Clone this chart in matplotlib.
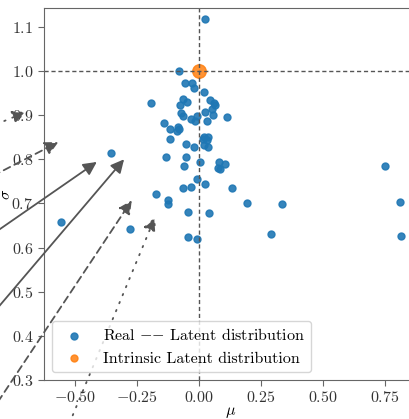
import numpy as np
import matplotlib
matplotlib.use("Agg")
import matplotlib.pyplot as plt

plt.rcParams['font.family'] = 'serif'
plt.rcParams['font.serif'] = ['cmr10']
plt.rcParams['mathtext.fontset'] = 'cm'
plt.rcParams['axes.formatter.use_mathtext'] = True
plt.rcParams['font.size'] = 11.5

# latent means / std devs of the real samples
mu = [0.024, -0.081, -0.056, -0.029, -0.020, 0.021, -0.195, -0.066, -0.050, 0.043,
      0.060, 0.065, -0.077, 0.054, 0.024, -0.072, -0.063, 0.058, 0.112, -0.033,
      -0.009, -0.016, 0.031, -0.140, -0.117, -0.086, -0.081, -0.090, -0.116, 0.021,
      0.038, 0.031, 0.017, -0.054, -0.019, 0.019, 0.035, -0.132, -0.054, 0.004,
      -0.062, 0.082, 0.104, 0.075, 0.086, -0.006, 0.024, -0.065, -0.033, 0.133,
      -0.172, -0.123, -0.125, 0.192, -0.044, 0.040, -0.043, -0.008, 0.292, 0.335,
      0.751, 0.810, 0.817, -0.356, -0.558, -0.278]
sigma = [1.118, 0.999, 0.974, 0.973, 0.962, 0.952, 0.927, 0.936, 0.930, 0.934,
         0.928, 0.923, 0.922, 0.913, 0.907, 0.905, 0.899, 0.900, 0.895, 0.892,
         0.897, 0.886, 0.886, 0.882, 0.869, 0.873, 0.868, 0.864, 0.847, 0.850,
         0.851, 0.843, 0.845, 0.834, 0.829, 0.833, 0.828, 0.805, 0.806, 0.794,
         0.785, 0.794, 0.790, 0.781, 0.778, 0.756, 0.744, 0.735, 0.737, 0.736,
         0.721, 0.707, 0.699, 0.702, 0.681, 0.678, 0.623, 0.619, 0.631, 0.698,
         0.784, 0.703, 0.626, 0.814, 0.657, 0.642]

# the intrinsic latent distribution N(0, 1)
mu_intr = [0.0]
sigma_intr = [1.0]

# arrows coming in from the left panel: (tail, tip, linestyle)
arrows = [
    ((-1.044, 0.827), (-0.698, 0.907), (0, (0.8, 4.0))),
    ((-1.044, 0.701), (-0.567, 0.839), (0, (4, 2.6))),
    ((-1.044, 0.548), (-0.412, 0.794), '-'),
    ((-1.044, 0.310), (-0.302, 0.800), '-'),
    ((-0.997, 0.093), (-0.271, 0.707), (0, (4, 2.6))),
    ((-0.603, 0.093), (-0.177, 0.669), (0, (0.8, 4.0))),
]

xticks = [-0.50, -0.25, 0.00, 0.25, 0.50, 0.75]
yticks = [0.3, 0.4, 0.5, 0.6, 0.7, 0.8, 0.9, 1.0, 1.1]

fig = plt.figure(figsize=(4.10, 4.19), dpi=100)
ax = fig.add_axes([0.1073, 0.0931, 0.91, 0.888])

ax.scatter(mu, sigma, s=25, color='tab:blue', alpha=0.9,
           label=r'Real ${-}{-}$ Latent distribution')
ax.scatter(mu_intr, sigma_intr, s=95, color='tab:orange', alpha=0.85,
           label='Intrinsic Latent distribution')
ax.axvline(0, color='#555555', lw=1.0, ls=(0, (3, 2)))
ax.axhline(1, color='#555555', lw=1.0, ls=(0, (3, 2)))

for tail, tip, style in arrows:
    ax.annotate('', xy=tip, xytext=tail, xycoords='data', textcoords='data',
                annotation_clip=False,
                arrowprops=dict(arrowstyle='-|>', color='#555555', lw=1.3,
                                linestyle=style, mutation_scale=20,
                                shrinkA=0, shrinkB=0, clip_on=False))

ax.set_xlim(-0.625, 0.88)
ax.set_ylim(0.3, 1.143)
ax.set_xticks(xticks)
ax.set_yticks(yticks)
ax.set_xticklabels([f'${t:.2f}$' for t in xticks])
ax.set_yticklabels([f'${t:.1f}$' for t in yticks])
ax.set_xlabel(r'$\mu$', labelpad=0)
ax.set_ylabel(r'$\sigma$')
ax.yaxis.set_label_coords(-0.082, 0.5)

for sp in ax.spines.values():
    sp.set_color('#666666')
ax.tick_params(color='#666666', labelcolor='#333333', length=4)

leg = ax.legend(loc='lower left')
for h in leg.legend_handles:
    h.set_sizes([25])

fig.savefig('out.png', dpi=100)
